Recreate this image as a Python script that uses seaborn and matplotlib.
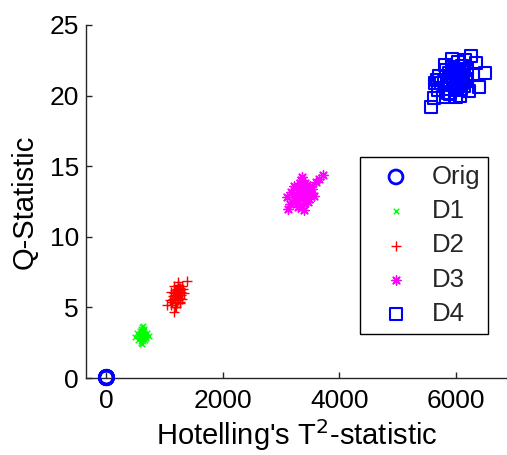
import matplotlib
matplotlib.use("Agg")
import matplotlib.pyplot as plt
import seaborn as sns
import pandas as pd

# ---------------- data ----------------
orig_t2 = [2, 5, 8, 3, 6, 10, 4, 7]
orig_q = [0.02, 0.04, 0.01, 0.05, 0.03, 0.06, 0.02, 0.04]

d1_t2 = [560, 590, 610, 630, 650, 600, 620, 640, 580, 670, 545, 700, 615, 595, 635, 655, 575, 625, 605, 645,
         690, 530, 660, 585, 620, 610, 640, 600, 570, 680, 650, 625, 595, 615, 735, 500, 630, 605, 660, 590]
d1_q = [3.0, 3.1, 2.9, 3.2, 3.0, 2.8, 3.4, 3.1, 3.3, 2.9, 2.7, 3.2, 3.6, 2.6, 2.9, 3.3, 3.0, 2.8, 3.1, 3.5,
        3.0, 3.2, 2.7, 2.9, 3.0, 3.3, 3.4, 2.5, 3.1, 2.8, 3.2, 2.6, 3.5, 2.4, 3.0, 2.9, 3.7, 3.2, 3.1, 2.8]

d2_t2 = [1210, 1180, 1240, 1260, 1150, 1200, 1230, 1270, 1190, 1220, 1300, 1130, 1250, 1170, 1210, 1240, 1280,
         1160, 1200, 1230, 1190, 1260, 1320, 1110, 1220, 1250, 1180, 1290, 1140, 1210, 1390, 1043, 1157, 1200,
         1330, 1090, 1240, 1270, 1180, 1215, 1120, 1300, 1170, 1260]
d2_q = [5.9, 5.7, 6.0, 6.2, 5.6, 6.1, 5.8, 6.4, 5.5, 6.3, 6.5, 5.4, 5.9, 6.0, 5.3, 6.6, 6.1, 5.8, 6.2, 5.5,
        5.9, 5.7, 6.3, 5.2, 6.0, 6.4, 6.2, 5.9, 5.8, 5.6, 6.9, 5.17, 4.7, 5.0, 6.0, 5.5, 6.8, 5.4, 5.0, 6.1,
        6.1, 5.6, 6.5, 5.3]

d3_t2 = [3350, 3300, 3400, 3450, 3250, 3380, 3420, 3500, 3200, 3330, 3470, 3150, 3360, 3280, 3410, 3540, 3230,
         3390, 3310, 3440, 3100, 3600, 3370, 3260, 3490, 3340, 3430, 3180, 3520, 3290, 3730, 3650, 3120, 3400,
         3360, 3460, 3220, 3320, 3560, 3410]
d3_q = [13.0, 12.8, 13.2, 13.4, 12.6, 13.1, 12.9, 13.6, 12.5, 13.3, 13.0, 12.3, 12.7, 13.5, 13.8, 13.4, 13.0,
        12.4, 12.2, 13.7, 12.8, 13.9, 13.5, 12.9, 12.7, 14.0, 12.6, 13.2, 13.1, 12.1, 14.4, 14.1, 12.0, 11.9,
        14.2, 12.5, 13.6, 13.8, 12.9, 13.3]

d4_t2 = [5570, 5620, 5700, 5750, 5800, 5850, 5880, 5900, 5920, 5950, 5970, 6000, 6020, 6050, 6080, 6100, 6130,
         6150, 6200, 6257, 6300, 6350, 6500, 5650, 5780, 5830, 5860, 5940, 5990, 6010, 6040, 6070, 6110, 6160,
         6190, 6230, 5720, 5900, 5960, 6060, 6140, 6400, 5680, 5810, 6000, 6090, 5930, 6180]
d4_q = [19.2, 19.8, 20.4, 20.9, 21.0, 20.5, 21.6, 20.1, 21.3, 20.8, 21.9, 21.2, 20.4, 21.7, 21.0, 22.1, 21.4,
        20.7, 21.9, 22.8, 21.5, 22.3, 21.6, 20.9, 19.9, 21.8, 20.2, 22.0, 20.6, 21.5, 22.4, 20.0, 20.9, 22.5,
        21.2, 20.3, 21.4, 21.1, 21.6, 21.3, 21.8, 20.6, 21.1, 22.2, 19.9, 20.5, 22.6, 21.0]

x_ticks = [0, 2000, 4000, 6000]
y_ticks = [0, 5, 10, 15, 20, 25]

# ---------------- style ----------------
sns.set_theme(style="white")
plt.rcParams["font.family"] = ["Liberation Sans", "DejaVu Sans"]

fig = plt.figure(figsize=(5.07, 4.55), dpi=100)
ax = fig.add_axes([86 / 507, 77 / 455, 421 / 507, 353 / 455])

series = [
    ("Orig", orig_t2, orig_q, "o", "#0000ff", 100, 2.0),
    ("D1", d1_t2, d1_q, "x", "#00ff00", 16, 1.0),
    ("D2", d2_t2, d2_q, "+", "#ff0000", 55, 1.0),
    ("D3", d3_t2, d3_q, (8, 2, 0), "#ff00ff", 45, 1.0),
    ("D4", d4_t2, d4_q, "s", "#0000ff", 74, 1.5),
]

for name, xs, ys, mk, col, sz, lw in series:
    df = pd.DataFrame({"T2": xs, "Q": ys})
    if mk in ("o", "s"):
        sns.scatterplot(data=df, x="T2", y="Q", marker=mk, s=sz, color=col,
                        facecolor="none", edgecolor=col, linewidth=lw,
                        label=name, ax=ax, clip_on=False, zorder=3)
    else:
        sns.scatterplot(data=df, x="T2", y="Q", marker=mk, s=sz, color=col,
                        linewidth=lw, label=name, ax=ax, clip_on=False, zorder=3)

ax.set_xlim(-345, 6880)
ax.set_ylim(0, 25)
ax.set_xticks(x_ticks)
ax.set_yticks(y_ticks)
for sp in ["top", "right"]:
    ax.spines[sp].set_visible(False)
for sp in ["left", "bottom"]:
    ax.spines[sp].set_color("#262626")
    ax.spines[sp].set_linewidth(1.0)

ax.tick_params(axis="both", direction="in", length=4, width=1, color="#262626",
               labelsize=19, labelcolor="black")
ax.tick_params(axis="x", pad=8)
ax.tick_params(axis="y", pad=5)
ax.tick_params(bottom=True, left=True)

ax.set_xlabel("Hotelling's T$^2$-statistic", fontsize=21, color="black", labelpad=3)
ax.set_ylabel("Q-Statistic", fontsize=21, color="black", labelpad=8)

leg = ax.legend(loc="upper left", bbox_to_anchor=(360 / 507, 1 - 157 / 455),
                bbox_transform=fig.transFigure, borderaxespad=0,
                fontsize=18.5, frameon=True, fancybox=False, framealpha=1,
                edgecolor="black", scatterpoints=1, handlelength=2.2,
                handletextpad=0.3, borderpad=0.3, labelspacing=0.4)
leg.get_frame().set_linewidth(1.0)

fig.savefig("out.png", dpi=100)
